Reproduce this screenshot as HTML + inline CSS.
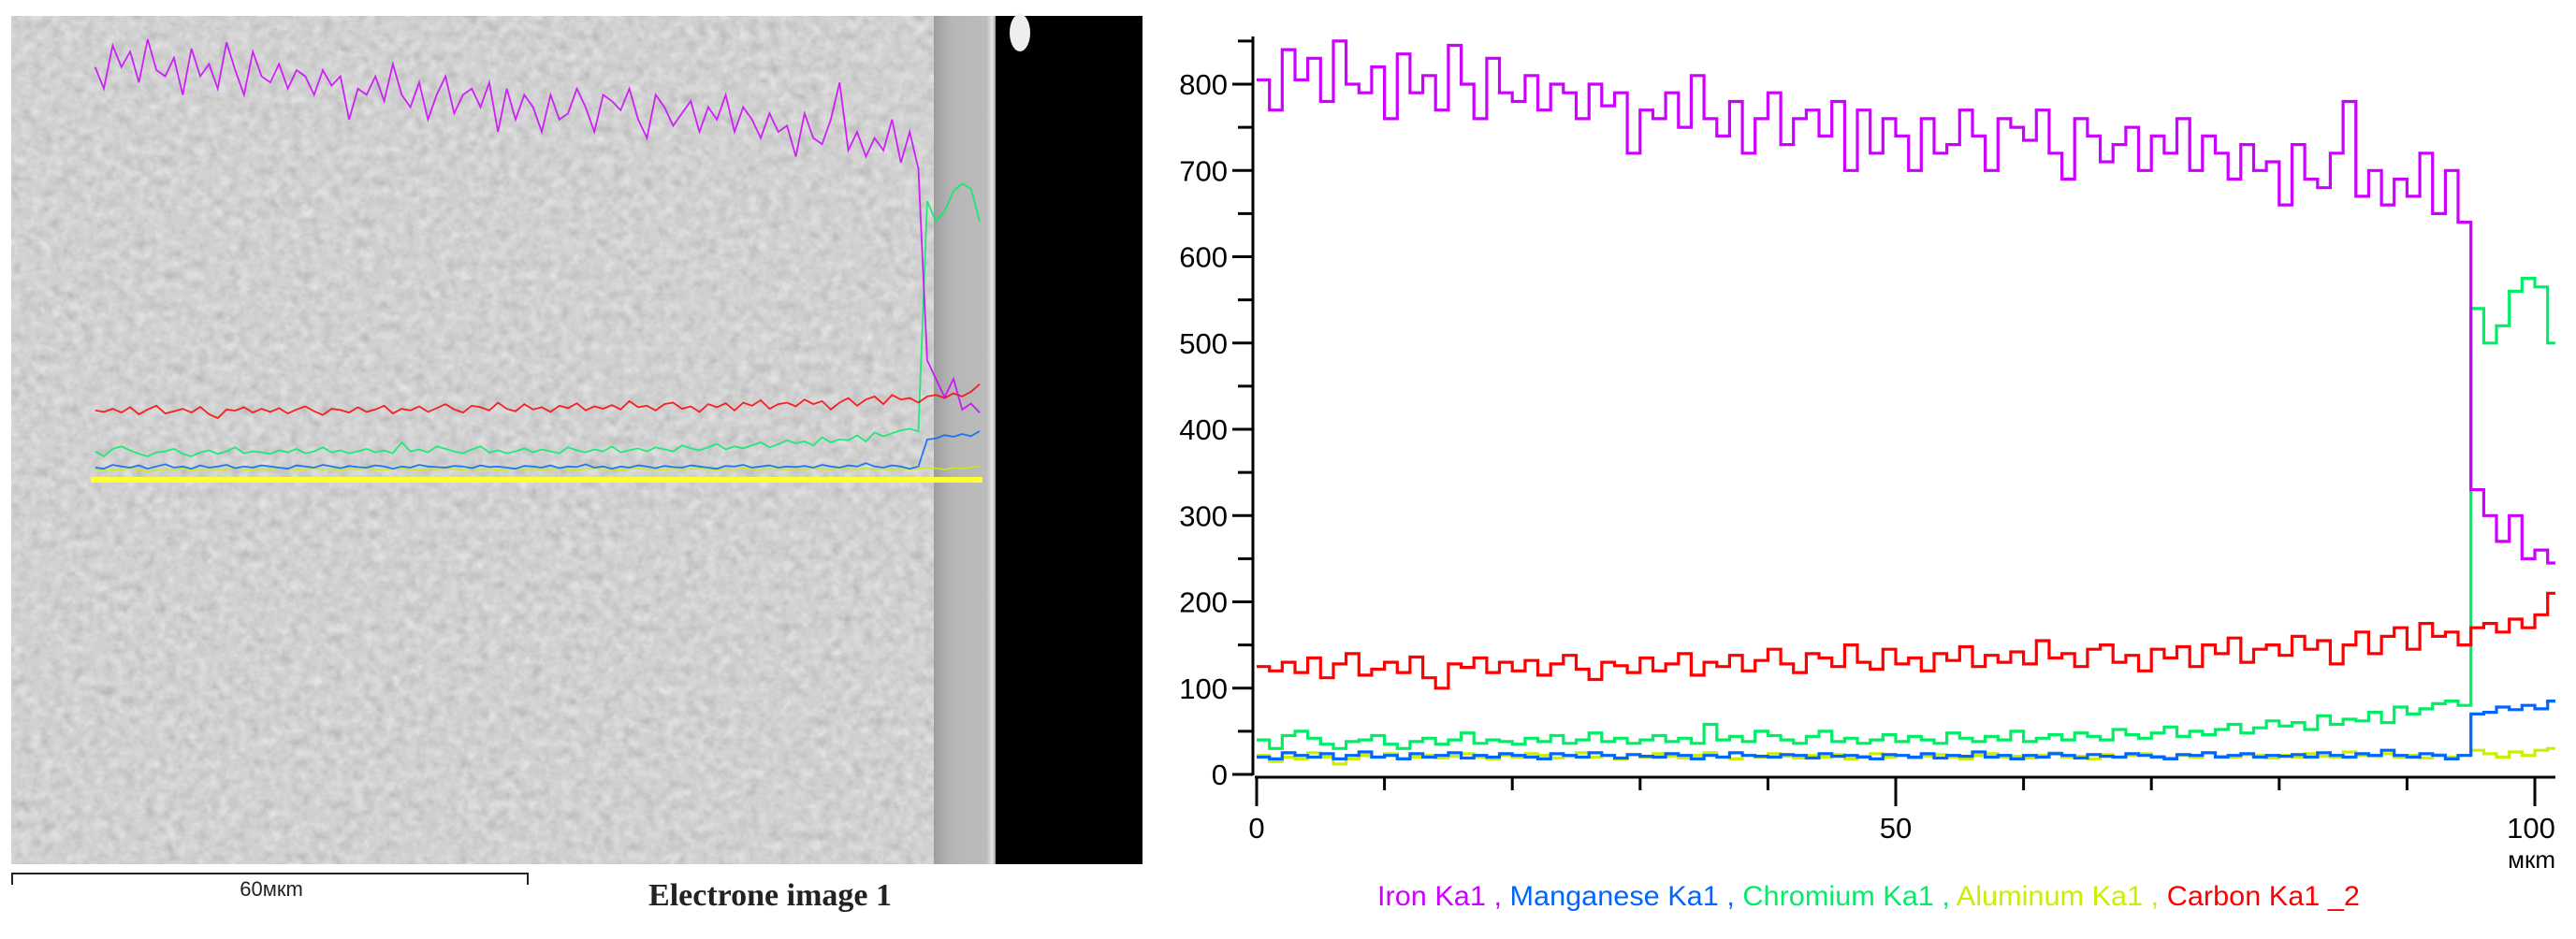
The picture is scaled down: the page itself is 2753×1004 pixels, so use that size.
<!DOCTYPE html>
<html><head><meta charset="utf-8"><style>
html,body{margin:0;padding:0;background:#fff;}
svg{display:block;}
</style></head><body>
<svg id="fig" width="2753" height="1004" viewBox="0 0 2753 1004" xmlns="http://www.w3.org/2000/svg">
<defs>
<filter id="tex" x="0" y="0" width="100%" height="100%">
<feTurbulence type="fractalNoise" baseFrequency="0.09" numOctaves="3" seed="4" result="n"/>
<feColorMatrix type="matrix" values="0.33 0.33 0.33 0 0  0.33 0.33 0.33 0 0  0.33 0.33 0.33 0 0  0 0 0 0 1" result="g"/>
<feComponentTransfer><feFuncR type="linear" slope="0.6" intercept="0.37"/><feFuncG type="linear" slope="0.6" intercept="0.37"/><feFuncB type="linear" slope="0.6" intercept="0.37"/></feComponentTransfer>
</filter>
<linearGradient id="edge" x1="0" x2="1" y1="0" y2="0">
<stop offset="0" stop-color="#9c9c9c"/><stop offset="0.12" stop-color="#a8a8a8"/><stop offset="0.3" stop-color="#b6b6b6"/><stop offset="0.85" stop-color="#bcbcbc"/><stop offset="0.95" stop-color="#e4e4e4"/><stop offset="1" stop-color="#9a9a9a"/>
</linearGradient>
</defs>
<g>
<rect x="12" y="17" width="1209" height="907" fill="#adadad"/>
<rect x="12" y="17" width="995" height="907" filter="url(#tex)" opacity="0.9"/>
<rect x="998" y="17" width="66" height="907" fill="url(#edge)"/>
<rect x="1064" y="17" width="157" height="907" fill="#000"/>
<ellipse cx="1090" cy="35" rx="11" ry="20" fill="#eee"/>
<rect x="97" y="510" width="953" height="6" fill="#ffff33"/>
<g id="leftProfiles"></g>
</g>
<g>
<line x1="12" y1="934" x2="565" y2="934" stroke="#222" stroke-width="2"/>
<line x1="13" y1="934" x2="13" y2="946" stroke="#222" stroke-width="2"/>
<line x1="564" y1="934" x2="564" y2="946" stroke="#222" stroke-width="2"/>
<text x="290" y="958" font-family="Liberation Sans, sans-serif" font-size="22" text-anchor="middle" fill="#222">60мкm</text>
</g>
<text x="823" y="968" font-family="Liberation Serif, serif" font-weight="bold" font-size="34" text-anchor="middle" fill="#222">Electrone image 1</text>
<g id="chart"></g>
<text x="1472" y="968" font-family="Liberation Sans, sans-serif" font-size="30" textLength="1050" lengthAdjust="spacingAndGlyphs"><tspan fill="#cc00ff">Iron Ka1 </tspan><tspan fill="#cc00ff">,</tspan><tspan fill="#0066ff"> Manganese Ka1 </tspan><tspan fill="#0066ff">,</tspan><tspan fill="#00ee66"> Chromium Ka1 </tspan><tspan fill="#00ee66">,</tspan><tspan fill="#ccee00"> Aluminum Ka1 </tspan><tspan fill="#ccee00">,</tspan><tspan fill="#ff0000"> Carbon Ka1 _2</tspan></text>
</svg>
<script>
const iron = [805,770,840,805,830,780,850,800,790,820,760,835,790,810,770,845,800,760,830,790,
 780,810,770,800,790,760,800,775,790,720,770,760,790,750,810,760,740,780,720,760,
 790,730,760,770,740,780,700,770,720,760,740,700,760,720,730,770,740,700,760,750,
 735,770,720,690,760,740,710,730,750,700,740,720,760,700,740,720,690,730,700,710,
 660,730,690,680,720,780,670,700,660,690,670,720,650,700,640,330,300,270,300,250,260,245];
const chromium = [40,30,45,50,42,35,30,38,40,45,35,30,38,42,35,40,48,36,40,38,
 35,42,38,45,36,40,48,38,42,36,40,45,38,42,36,58,40,44,38,50,
 45,40,36,44,50,38,42,36,40,46,38,44,40,36,48,42,38,44,40,50,
 38,42,46,40,48,44,40,52,46,42,48,55,44,50,46,52,58,48,54,62,
 56,60,52,68,58,64,62,72,60,78,70,76,82,85,80,540,500,520,560,575,565,500];
const manganese = [20,18,25,22,20,24,18,22,26,20,22,18,24,20,22,25,19,22,20,24,
 22,20,18,24,22,20,25,22,19,23,21,20,24,22,18,22,20,25,22,21,
 20,23,22,19,24,21,22,20,18,23,22,20,24,19,22,21,26,20,22,18,
 22,20,24,22,19,23,21,20,24,22,20,18,23,22,25,20,22,24,20,22,
 21,23,20,25,22,20,24,22,28,22,20,24,22,18,22,70,72,78,75,80,76,85];
const aluminum = [22,15,20,18,25,20,12,18,22,20,24,18,20,22,19,21,24,20,18,22,
 20,24,22,19,21,25,20,22,18,23,20,24,21,19,22,25,20,18,22,20,
 24,21,19,22,20,23,18,21,24,20,22,19,21,23,20,18,22,24,20,21,
 19,22,25,20,21,18,23,20,22,24,21,19,22,20,25,21,20,23,22,19,
 22,20,24,21,20,26,22,21,24,20,22,19,23,20,22,28,24,20,26,22,28,30];
const carbon = [125,120,130,118,135,112,128,140,115,122,130,118,136,112,100,128,124,135,118,130,
 120,132,115,128,138,122,110,130,126,118,135,120,128,140,115,130,125,138,120,132,
 145,128,118,140,135,125,150,130,122,145,128,135,120,140,132,148,125,138,130,142,
 128,155,135,140,125,145,150,130,138,120,145,135,148,125,150,140,158,130,145,150,
 138,160,145,155,128,150,165,140,160,170,145,175,160,165,150,170,175,165,180,170,185,210];
const yTicks = [0,100,200,300,400,500,600,700,800];
const xTickLabels = [0,50,100];
const xMax = 101.6;

const NS = 'http://www.w3.org/2000/svg';
const chart = document.getElementById('chart');
const X0 = 1343, XS = 13.66, Y0 = 828, YS = 0.9225;
const xPx = v => X0 + v * XS;
const yPx = v => Y0 - v * YS;
function mk(tag, attrs, parent){const e=document.createElementNS(NS,tag);for(const k in attrs)e.setAttribute(k,attrs[k]);parent.appendChild(e);return e;}
const font = 'Liberation Sans, sans-serif';

const yAxis = mk('line',{x1:1339,y1:39,x2:1339,y2:829,stroke:'#000','stroke-width':3},chart);


const xAxis = mk('line',{x1:1341,y1:831,x2:2731,y2:831,stroke:'#000','stroke-width':3},chart);


for (let v = 0; v <= 850; v += 50) {
  const major = v % 100 === 0;
  const t = mk('line',{x1: major?1317:1323, y1:yPx(v), x2:1339, y2:yPx(v), stroke:'#000','stroke-width':3},chart);
  
  
}
yTicks.forEach(v => {
  const t = mk('text',{x:1312,y:yPx(v)+11,'font-family':font,'font-size':31,'text-anchor':'end',fill:'#000'},chart);
  t.textContent = v;
  
  
});
for (let v = 0; v <= 100; v += 10) {
  const major = v % 50 === 0;
  const t = mk('line',{x1:xPx(v), y1:831, x2:xPx(v), y2: major?862:845, stroke:'#000','stroke-width':3},chart);
  
  
}
xTickLabels.forEach(v => {
  const t = mk('text',{x: v===100 ? xPx(v)-4 : xPx(v), y:896,'font-family':font,'font-size':31,'text-anchor':'middle',fill:'#000'},chart);
  t.textContent = v;
  
  
});
const unit = mk('text',{x:2731,y:928,'font-family':font,'font-size':26,'text-anchor':'end',fill:'#000'},chart);
unit.textContent = 'мкm';



const series = [
  {name:'series-aluminum', data:aluminum, color:'#ccee00', base:508, k:0.3},
  {name:'series-manganese', data:manganese, color:'#0066ff', base:512, k:0.6},
  {name:'series-chromium', data:chromium, color:'#00ee66', base:504, k:0.535},
  {name:'series-carbon', data:carbon, color:'#ff0000', base:480, k:0.33},
  {name:'series-iron', data:iron, color:'#cc00ff', base:603, k:0.66}
];
function stepPath(data){
  let d='';
  data.forEach((v,i)=>{
    const xa = xPx(i), xb = xPx(Math.min(i+1,xMax)), y = yPx(v);
    d += (i===0?'M':'L') + xa.toFixed(1)+','+y.toFixed(1)+' L'+xb.toFixed(1)+','+y.toFixed(1)+' ';
  });
  return d;
}
series.forEach(s=>{
  const p = mk('path',{d:stepPath(s.data),fill:'none',stroke:s.color,'stroke-width':3.2,'stroke-linejoin':'miter'},chart);
  
  
});

const lp = document.getElementById('leftProfiles');
const xl = v => 97 + v * 9.36;
series.forEach(s=>{
  let d='';
  s.data.forEach((v,i)=>{ d += (i===0?'M':'L') + xl(i+0.5).toFixed(1)+','+(s.base - v*s.k).toFixed(1)+' '; });
  const p = mk('path',{d:d,fill:'none',stroke:s.color,'stroke-width':1.8,opacity:0.85},lp);
  
  
});
</script>
</body></html>
